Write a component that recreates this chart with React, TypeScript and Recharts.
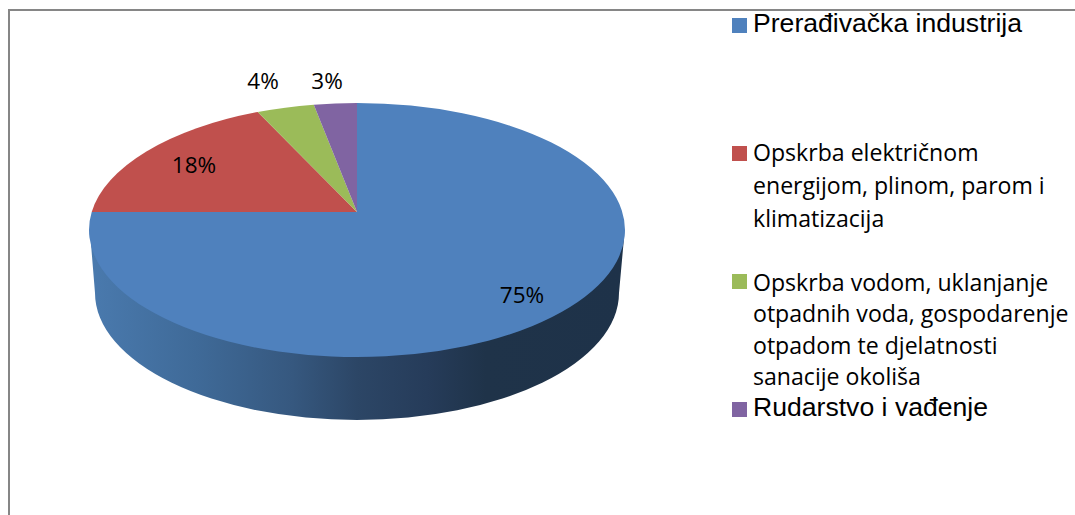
import React from "react";
import { PieChart, Pie, Legend } from "recharts";

const CATEGORIES = [
  "Prerađivačka industrija",
  "Opskrba električnom energijom, plinom, parom i klimatizacija",
  "Opskrba vodom, uklanjanje otpadnih voda, gospodarenje otpadom te djelatnosti sanacije okoliša",
  "Rudarstvo i vađenje",
];
const VALUES = [75, 18, 4, 3];
const COLORS = ["#4f81bd", "#c0504d", "#9bbb59", "#8064a2"];
const LEGEND_LINES = [
  ["Prerađivačka industrija"],
  ["Opskrba električnom", "energijom, plinom, parom i", "klimatizacija"],
  ["Opskrba vodom, uklanjanje", "otpadnih voda, gospodarenje", "otpadom te djelatnosti", "sanacije okoliša"],
  ["Rudarstvo i vađenje"],
];

const data = CATEGORIES.map((name, i) => ({ name, value: VALUES[i], fill: COLORS[i] }));

// layout
const W = 1075;
const H = 515;
const APEX = { x: 357, y: 212 };
const RX = 268;
const RY = 127;
const ELLIPSE_DY = 18; // the ellipse centre sits below the apex (perspective)
const K = RY / RX;
const LABEL_OFFSET = [
  [165, 82],
  [-163, -48],
  [-94, -132],
  [-30, -132],
];
const LEGEND_LAYOUT = [
  { swatchTop: 18, textTop: 8, font: "Liberation Sans", size: 26.6, lh: 30, ls: 0 },
  { swatchTop: 146, textTop: 136, font: "Open Sans", size: 23.1, lh: 33, ls: 0 },
  { swatchTop: 274, textTop: 267, font: "Open Sans", size: 23.1, lh: 31.3, ls: 0 },
  { swatchTop: 402, textTop: 392, font: "Liberation Sans", size: 26.6, lh: 30, ls: 0 },
];

function rimPoint(cx: number, cy: number, rx: number, ry: number, deg: number) {
  const t = ((90 - deg) * Math.PI) / 180;
  const dx = Math.sin(t);
  const dy = -Math.cos(t) * K;
  const ecy = cy + ELLIPSE_DY;
  const a = (dx * dx) / (rx * rx) + (dy * dy) / (ry * ry);
  const b = (2 * dy * (cy - ecy)) / (ry * ry);
  const c = ((cy - ecy) * (cy - ecy)) / (ry * ry) - 1;
  const s = (-b + Math.sqrt(b * b - 4 * a * c)) / (2 * a);
  return { x: cx + dx * s, y: cy + dy * s };
}

function Sector3D(props: any) {
  const { cx, cy, outerRadius, startAngle, endAngle, fill } = props;
  const rx = outerRadius;
  const ry = rx * K;
  const p0 = rimPoint(cx, cy, rx, ry, startAngle);
  const p1 = rimPoint(cx, cy, rx, ry, endAngle);
  const large = Math.abs(startAngle - endAngle) > 180 ? 1 : 0;
  const top = `M${cx},${cy} L${p0.x},${p0.y} A${rx},${ry} 0 ${large} 1 ${p1.x},${p1.y} Z`;
  const ecy = cy + ELLIPSE_DY;
  const isFirst = Math.abs(startAngle - 90) < 0.01;
  const side = `M${cx - rx + 2},${ecy + 14} L${cx - rx + 6},${ecy + 63} A${rx - 6},${ry} 0 0 0 ${cx + rx - 6},${ecy + 63} L${cx + rx - 1},${ecy + 8} Z`;
  return (
    <g>
      {isFirst && (
        <>
          <defs>
            <linearGradient id="sideGrad" gradientUnits="userSpaceOnUse" x1={cx - rx} y1="0" x2={cx + rx} y2="0">
              <stop offset="0" stopColor="#4a7aae" />
              <stop offset="0.2" stopColor="#3f6a98" />
              <stop offset="0.38" stopColor="#36587f" />
              <stop offset="0.5" stopColor="#2c4666" />
              <stop offset="0.63" stopColor="#263c5a" />
              <stop offset="0.74" stopColor="#1f3349" />
              <stop offset="1" stopColor="#1e3249" />
            </linearGradient>
          </defs>
          <path d={side} fill="url(#sideGrad)" />
        </>
      )}
      <path d={top} fill={fill} />
    </g>
  );
}

function renderLabel(props: any) {
  const { cx, cy, index, value } = props;
  const [dx, dy] = LABEL_OFFSET[index];
  return (
    <text
      x={cx + dx}
      y={cy + dy}
      textAnchor="middle"
      dominantBaseline="central"
      fontFamily="Open Sans"
      fontSize={22.5}
      fill="#000"
    >
      {`${value}%`}
    </text>
  );
}

function LegendContent(props: any) {
  const payload = props.payload || [];
  return (
    <div style={{ position: "absolute", left: 0, top: 0, width: W, height: H }}>
      {payload.map((entry: any, i: number) => {
        const l = LEGEND_LAYOUT[i];
        return (
          <React.Fragment key={i}>
            <div
              style={{
                position: "absolute",
                left: 732,
                top: l.swatchTop,
                width: 15,
                height: 15,
                background: entry.color,
              }}
            />
            <div
              style={{
                position: "absolute",
                left: 753,
                top: l.textTop,
                fontFamily: l.font,
                fontSize: l.size,
                lineHeight: `${l.lh}px`,
                letterSpacing: l.ls,
                color: "#000",
                whiteSpace: "nowrap",
              }}
            >
              {LEGEND_LINES[i].map((t, j) => (
                <div key={j}>{t}</div>
              ))}
            </div>
          </React.Fragment>
        );
      })}
    </div>
  );
}

export default function App() {
  return (
    <div style={{ position: "absolute", left: 0, top: 0, width: W, height: H, overflow: "hidden", background: "#fff" }}>
      <div
        style={{
          position: "absolute",
          left: 8,
          top: 9,
          width: W,
          height: H,
          borderLeft: "2px solid #868686",
          borderTop: "2px solid #868686",
        }}
      />
      <div style={{ position: "absolute", left: 0, top: 0 }}>
        <PieChart width={W} height={H} margin={{ top: 0, right: 0, bottom: 0, left: 0 }}>
          <Legend
            content={LegendContent}
            itemSorter={null}
            wrapperStyle={{ position: "absolute", left: 0, top: 0, width: W, height: H, pointerEvents: "none" }}
          />
          <Pie
            data={data}
            dataKey="value"
            nameKey="name"
            cx={APEX.x}
            cy={APEX.y}
            innerRadius={0}
            outerRadius={RX}
            startAngle={90}
            endAngle={-270}
            stroke="none"
            isAnimationActive={false}
            shape={Sector3D}
            inactiveShape={Sector3D}
            label={renderLabel}
            labelLine={false}
          />
        </PieChart>
      </div>
    </div>
  );
}
